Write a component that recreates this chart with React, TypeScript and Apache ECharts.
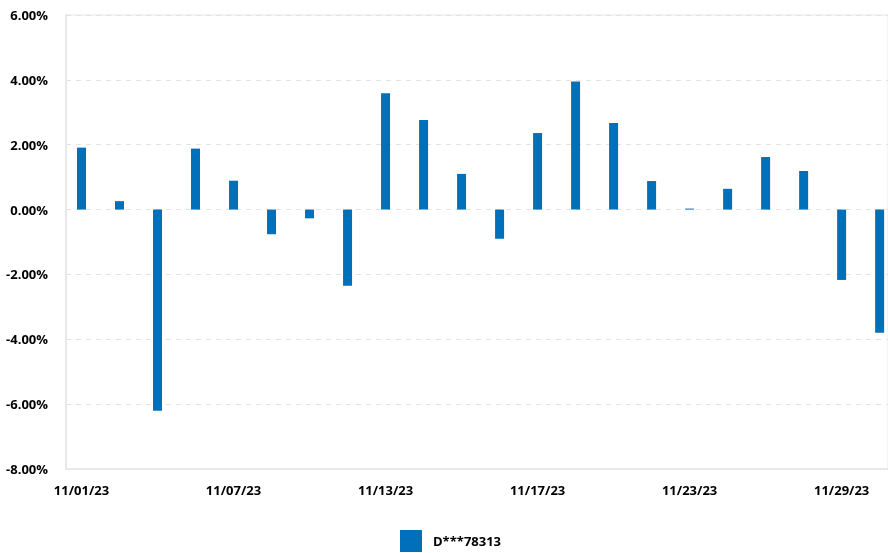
import React, { useEffect, useRef } from "react";
import * as echarts from "echarts";

const categories = [
  "11/01/23", "11/02/23", "11/03/23", "11/06/23", "11/07/23", "11/08/23",
  "11/09/23", "11/10/23", "11/13/23", "11/14/23", "11/15/23", "11/16/23",
  "11/17/23", "11/20/23", "11/21/23", "11/22/23", "11/23/23", "11/24/23",
  "11/27/23", "11/28/23", "11/29/23", "11/30/23",
];
const seriesName = "D***78313";
const values = [
  1.91, 0.26, -6.2, 1.88, 0.89, -0.76, -0.27, -2.35, 3.59, 2.76, 1.1, -0.9,
  2.36, 3.95, 2.67, 0.88, 0.03, 0.64, 1.62, 1.19, -2.17, -3.8,
];
const labelIndices = [0, 4, 8, 12, 16, 20];

export default function App() {
  const ref = useRef<HTMLDivElement>(null);
  useEffect(() => {
    if (!ref.current) return;
    const chart = echarts.init(ref.current, null, { renderer: "svg" });
    const font = "'Open Sans', 'Noto Sans', sans-serif";
    chart.setOption({
      animation: false,
      grid: {
        left: 66,
        right: -2,
        top: 15,
        bottom: 84,
        show: true,
        borderColor: "#e8e8e8",
        borderWidth: 1,
      },
      legend: {
        bottom: 1,
        left: 400,
        padding: 0,
        icon: "rect",
        itemWidth: 22,
        itemHeight: 22,
        textStyle: {
          fontFamily: font,
          fontWeight: "bold",
          fontSize: 13,
          color: "#000",
          padding: [0, 0, 0, 6],
        },
        data: [seriesName],
      },
      xAxis: {
        type: "value",
        min: -0.408,
        max: 21.22,
        splitLine: { show: false },
        axisLine: { show: true, onZero: false, lineStyle: { color: "#e8e8e8", width: 2 } },
        axisTick: { show: false },
        axisLabel: {
          customValues: labelIndices,
          formatter: (v: number) => categories[Math.round(v)] ?? "",
          fontFamily: font,
          fontWeight: "bold",
          fontSize: 13,
          color: "#000",
          margin: 14,
        },
      },
      yAxis: {
        type: "value",
        min: -8,
        max: 6,
        interval: 2,
        axisLine: { show: true, onZero: false, lineStyle: { color: "#e8e8e8", width: 2 } },
        axisTick: { show: false },
        splitLine: { show: true, lineStyle: { color: "#e3e3e3", type: [5, 5], width: 1 } },
        axisLabel: {
          formatter: (v: number) => v.toFixed(2) + "%",
          fontFamily: font,
          fontWeight: "bold",
          fontSize: 13,
          color: "#000",
          margin: 18,
        },
      },
      series: [
        {
          name: seriesName,
          type: "bar",
          barWidth: 9,
          itemStyle: { color: "#0070bb" },
          data: values.map((v, i) => [i, v]),
        },
      ],
    });
    return () => chart.dispose();
  }, []);
  return (
    <div
      ref={ref}
      style={{ position: "fixed", left: 0, top: 0, width: 888, height: 553 }}
    />
  );
}
